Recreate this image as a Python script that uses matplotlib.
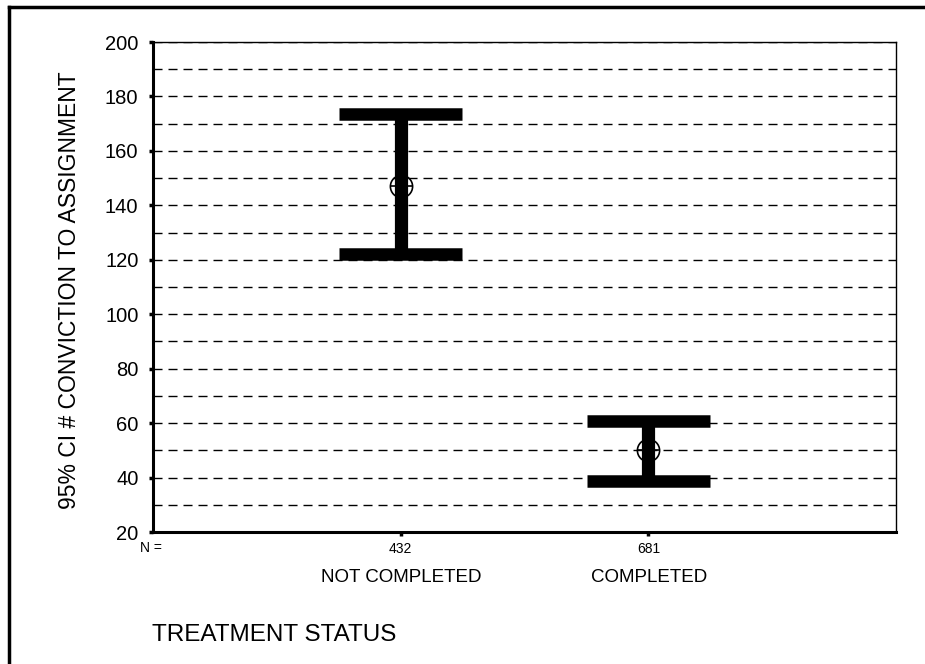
import matplotlib.pyplot as plt
import matplotlib.lines as mlines

plt.rcParams['font.family'] = ['Liberation Sans', 'DejaVu Sans']

groups = ['NOT COMPLETED', 'COMPLETED']
n_counts = ['432', '681']
means = [147.2, 50.0]
ci_low = [122.1, 38.6]
ci_high = [173.6, 60.8]
xpos = [1, 2]

fig = plt.figure(figsize=(9.25, 6.64), dpi=100)
ax = fig.add_axes([153/925, 1-532/664, (896-153)/925, (532-42)/664])

# dashed grid every 10
for v in range(30, 201, 10):
    ax.axhline(v, color='black', lw=1.0, ls=(0, (6.5, 4.3)), zorder=1)

cap_half = 0.248
for i in range(len(groups)):
    x = xpos[i]
    ax.plot([x, x], [ci_low[i], ci_high[i]], color='black', lw=9.5,
            solid_capstyle='butt', zorder=3)
    ax.plot([x - cap_half, x + cap_half], [ci_high[i], ci_high[i]], color='black',
            lw=9, solid_capstyle='butt', zorder=3)
    ax.plot([x - cap_half, x + cap_half], [ci_low[i], ci_low[i]], color='black',
            lw=9, solid_capstyle='butt', zorder=3)
    ax.plot(x, means[i], marker='o', ms=16, mfc='none', mec='black', mew=1.2, zorder=4)
    ax.plot(x, means[i], marker='_', ms=16, mec='black', mew=1.2, zorder=4)

ax.set_xlim(0, 3)
ax.set_ylim(20, 200)
ax.set_yticks(range(20, 201, 20))
ax.set_xticks(xpos)
ax.set_xticklabels(n_counts, fontsize=10)
ax.tick_params(axis='y', labelsize=14.5, length=3, width=2.5, pad=7.5)
ax.tick_params(axis='x', length=3, width=2.5, pad=4)

ax.spines['left'].set_linewidth(2.2)
ax.spines['bottom'].set_linewidth(2.2)
ax.spines['right'].set_linewidth(1)
ax.spines['top'].set_linewidth(1)

fig.text(70/925, 1-290/664, '95% CI # CONVICTION TO ASSIGNMENT', fontsize=16.5,
         rotation=90, ha='center', va='center')

fig.text(151/925, 1-548/664, 'N =', fontsize=10, ha='center', va='center')
for i in range(len(groups)):
    fig.text((153 + 248*xpos[i])/925, 1-577/664, groups[i], fontsize=13.5,
             ha='center', va='center')
fig.text(152/925, 1-635/664, 'TREATMENT STATUS', fontsize=17.5, ha='left', va='center')

# outer frame (top and left)
fig.add_artist(mlines.Line2D([9/925, 1], [1-7/664, 1-7/664], color='black', lw=2.5,
                             transform=fig.transFigure))
fig.add_artist(mlines.Line2D([9/925, 9/925], [0, 1-7/664], color='black', lw=2.5,
                             transform=fig.transFigure))

fig.savefig('out.png', dpi=100)
